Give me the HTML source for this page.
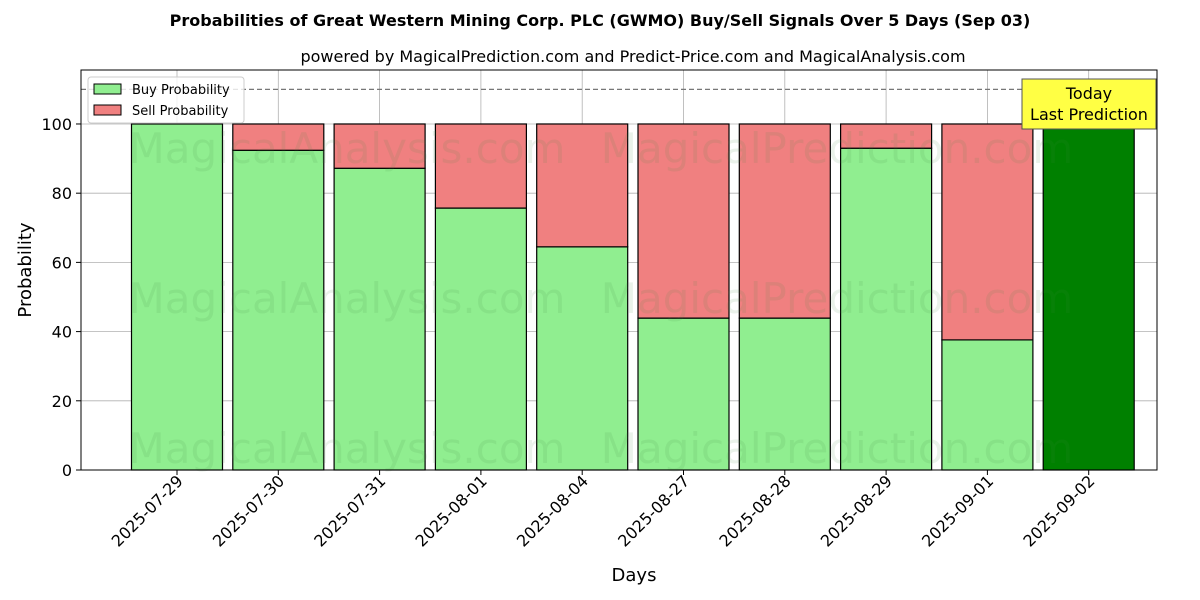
<!DOCTYPE html>
<html><head><meta charset="utf-8"><style>
body{margin:0;background:#fff;font-family:"DejaVu Sans","Liberation Sans",sans-serif}
svg{display:block}
</style></head><body>
<svg id="chart" width="1200" height="600" xmlns="http://www.w3.org/2000/svg">
<text x="600" y="26" text-anchor="middle" font-size="16" font-weight="bold">Probabilities of Great Western Mining Corp. PLC (GWMO) Buy/Sell Signals Over 5 Days (Sep 03)</text>
<text x="633" y="62" text-anchor="middle" font-size="16">powered by MagicalPrediction.com and Predict-Price.com and MagicalAnalysis.com</text>
<g id="grid"></g>
<g id="bars"></g>
<g id="wm" font-size="42" fill="rgba(60,140,60,0.11)" text-anchor="middle">
<text x="347" y="163">MagicalAnalysis.com</text><text x="837" y="163">MagicalPrediction.com</text>
<text x="347" y="313">MagicalAnalysis.com</text><text x="837" y="313">MagicalPrediction.com</text>
<text x="347" y="463">MagicalAnalysis.com</text><text x="837" y="463">MagicalPrediction.com</text>
</g>
<g id="axes"></g>
<rect x="81" y="70" width="1076" height="400" fill="none" stroke="#000" stroke-width="1"/>
<g>
<rect x="88" y="77" width="156" height="46" rx="3" fill="#fff" fill-opacity="0.8" stroke="#ccc"/>
<rect x="94" y="84" width="27" height="10" fill="#90ee90" stroke="#000"/>
<text x="132" y="94" font-size="13">Buy Probability</text>
<rect x="94" y="105" width="27" height="10" fill="#f08080" stroke="#000"/>
<text x="132" y="115" font-size="13">Sell Probability</text>
</g>
<g>
<rect x="1022" y="79" width="134" height="50" fill="#ffff44" stroke="#555"/>
<text x="1089" y="99" text-anchor="middle" font-size="16">Today</text>
<text x="1089" y="120" text-anchor="middle" font-size="16">Last Prediction</text>
</g>
<text x="634" y="581" text-anchor="middle" font-size="18">Days</text>
<text transform="translate(31,270) rotate(-90)" text-anchor="middle" font-size="18">Probability</text>
</svg>
<script>
const categories=["2025-07-29","2025-07-30","2025-07-31","2025-08-01","2025-08-04","2025-08-27","2025-08-28","2025-08-29","2025-09-01","2025-09-02"];
const buyValues=[100,92.4,87.2,75.7,64.5,43.9,43.9,93.0,37.6,100];
const yTicks=[0,20,40,60,80,100];
const refLine=110;
const NS="http://www.w3.org/2000/svg";
const L=81,R=1157,T=70,B=470,yMax=115.6;
const y=v=>B-v/yMax*(B-T);
const step=101.3,x0=177;
const x=i=>x0+i*step;
const bw=91;
function mk(tag,attrs,parent){const e=document.createElementNS(NS,tag);for(const k in attrs)e.setAttribute(k,attrs[k]);parent.appendChild(e);return e;}
const grid=document.getElementById('grid'),bars=document.getElementById('bars'),axes=document.getElementById('axes');
yTicks.forEach(t=>{
 const g=mk('line',{x1:L,x2:R,y1:y(t),y2:y(t),stroke:'#b0b0b0','stroke-width':0.8},grid);
 
 
 mk('line',{x1:L-5,x2:L,y1:y(t),y2:y(t),stroke:'#000'},axes);
 const tx=mk('text',{x:L-9,y:y(t)+6,'text-anchor':'end','font-size':16},axes);
 tx.textContent=t;
 
 
});
categories.forEach((c,i)=>{
 const g=mk('line',{x1:x(i),x2:x(i),y1:T,y2:B,stroke:'#b0b0b0','stroke-width':0.8},grid);
 
 
 mk('line',{x1:x(i),x2:x(i),y1:B,y2:B+5,stroke:'#000'},axes);
 const tx=mk('text',{transform:`translate(${x(i)+7},${B+12}) rotate(-45)`,'text-anchor':'end','font-size':16},axes);
 tx.textContent=c;
 
 
});
const rl=mk('line',{x1:L,x2:R,y1:y(refLine),y2:y(refLine),stroke:'#777','stroke-dasharray':'5,3','stroke-width':1.2},grid);


buyValues.forEach((v,i)=>{
 const last=i===buyValues.length-1;
 const b=mk('rect',{x:x(i)-bw/2,y:y(v),width:bw,height:B-y(v),fill:last?'#008000':'#90ee90',stroke:'#000','stroke-width':1.2},bars);
 
 
 if(v<100){
  const s=mk('rect',{x:x(i)-bw/2,y:y(100),width:bw,height:y(v)-y(100),fill:'#f08080',stroke:'#000','stroke-width':1.2},bars);
  
  
 }
});
</script>
</body></html>
